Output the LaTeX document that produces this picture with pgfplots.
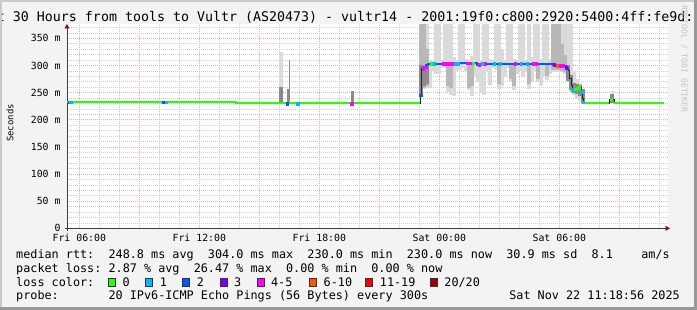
\documentclass[border=0pt]{standalone}
\usepackage{pgfplots}
\pgfplotsset{compat=1.18}
\usepackage{pgfplotstable}
\usepackage{fontspec}
\setmonofont{DejaVu Sans Mono}
\usetikzlibrary{arrows.meta}

\definecolor{bgcol}{HTML}{F3F3F3}
\definecolor{shadeA}{HTML}{CBCBCB}
\definecolor{shadeB}{HTML}{999999}
\definecolor{gridred}{HTML}{F2A8A8}
\definecolor{gridgrey}{HTML}{CDCDCD}
\definecolor{axiscol}{HTML}{404040}
\definecolor{arrowcol}{HTML}{8B1010}
\definecolor{wmcol}{HTML}{C4C4C4}
\definecolor{smokeL}{HTML}{DADADA}
\definecolor{smokeM}{HTML}{B8B8B8}
\definecolor{smokeD}{HTML}{8A8A8A}
\definecolor{c0col}{HTML}{26FF00}
\definecolor{c1col}{HTML}{00B8FF}
\definecolor{c2col}{HTML}{0059FF}
\definecolor{c3col}{HTML}{7E00FF}
\definecolor{c4col}{HTML}{FF00FF}
\definecolor{c6col}{HTML}{FF5500}
\definecolor{c11col}{HTML}{FF0000}
\definecolor{c20col}{HTML}{A10000}

\newcommand\tickfont{\ttfamily\fontsize{9.85}{11}\selectfont}
\newcommand\legfont{\ttfamily\fontsize{11.8}{13}\selectfont}
\newcommand\titlefont{\ttfamily\fontsize{13.3}{15}\selectfont}
\newcommand\wmfont{\ttfamily\fontsize{8.1}{9}\selectfont}
\newcommand\labfont{\ttfamily\fontsize{8.9}{10}\selectfont}

% hours since Fri 00:00, milliseconds
\pgfplotstableread{
x y
5.385 232
13.835 230
23.035 245
23.11 294
23.235 297
23.335 300
23.435 302
23.535 303
24.2 303.5
25.0 304
25.9 301.5
26.05 303.5
27.5 303
28.5 303.5
29.3 302.5
29.685 301
29.835 300
30.185 299
30.335 296
30.435 291
30.485 276
30.585 264
30.66 255
30.785 256
30.885 258
30.985 259
31.085 252
31.16 240
31.21 230
32.5 238
32.735 230
35.235 230
}\median

\pgfplotstableread{
x y
5.385 232
13.835 230
23.035 230
nan nan
31.21 230
32.5 230
nan nan
32.735 230
35.235 230
}\greenline

\pgfplotstableread{
x y
23.11 294
23.235 297
23.335 300
23.435 302
23.535 303
24.2 303.5
25.0 304
25.9 301.5
26.05 303.5
27.5 303
28.5 303.5
29.3 302.5
29.685 301
29.835 300
30.185 299
30.335 296
30.435 291
}\highline

\pgfplotstableread{
x y c
5.5 232 c2
5.56 232 c1
10.22 232 c2
10.35 232 c1
16.4 230 c2
16.93 230 c1
19.63 230 c4
23.06 245 c2
23.185 294 c4
23.31 297 c4
23.585 303 c0
23.735 303 c1
24.185 303 c4
24.335 303.5 c4
24.485 303.5 c4
24.635 303.5 c4
24.785 303.5 c1
24.935 303.5 c1
25.385 304 c4
25.535 304 c4
25.685 304 c0
25.985 301.5 c4
26.135 303.5 c1
26.285 303.5 c4
26.735 303.5 c1
27.035 303.5 c1
27.785 303 c4
28.085 303 c1
28.385 303 c1
28.685 303.5 c4
28.835 303.5 c4
29.735 301 c3
29.885 300 c6
30.035 300 c4
30.185 299 c4
30.335 296 c3
30.66 255 c1
30.785 256 c0
30.885 258 c0
30.985 259 c0
31.085 252 c1
31.19 232 c1
32.6 238 c0
}\lossmarks

\pgfplotstableread{
x lo hi
16.085 232 325
23.085 250 380
23.235 256 380
23.385 258 380
23.535 258 310
23.685 290 308
23.835 284 380
23.985 285 380
24.135 295 310
24.285 296 380
24.435 251 380
24.585 245 380
24.735 243 315
24.885 290 310
25.035 292 380
25.185 295 380
25.335 290 312
25.485 254 310
25.635 243 318
25.785 280 380
25.935 270 380
26.085 250 310
26.235 245 380
26.385 290 380
26.535 264 312
26.685 295 310
26.835 292 380
26.985 257 380
27.135 262 330
27.285 278 310
27.435 296 380
27.585 269 380
27.735 254 312
27.885 285 310
28.035 290 380
28.185 278 380
28.335 290 310
28.485 257 380
28.635 270 315
28.785 290 380
28.935 270 380
29.085 262 312
29.235 280 380
29.385 273 380
29.535 285 312
29.685 287 380
29.835 287 380
29.985 288 380
30.135 287 380
30.285 284 380
30.435 270 380
30.585 250 380
30.735 245 290
30.885 238 275
31.035 235 268
31.185 230 255
32.66 230 252
}\smokelight

\pgfplotstableread{
x lo hi
23.085 250 380
23.235 258 380
23.385 262 330
24.435 262 303
24.585 258 303
25.485 258 303
25.635 262 303
26.985 265 303
27.585 275 303
27.735 262 303
28.485 265 303
28.935 275 303
29.385 280 303
29.685 292 380
29.835 292 380
29.985 292 380
30.135 290 340
30.285 288 320
}\smokemid

\pgfplotstableread{
x lo hi
16.085 232 261
16.465 230 256
19.66 230 253
23.085 245 300
23.235 262 296
23.385 265 300
30.435 272 300
30.585 255 282
30.735 250 268
30.885 248 266
31.035 244 264
31.185 231 256
32.635 230 247
}\smokedark

\pgfplotstableread{
x lo hi
16.51 230 310
}\smokethin

\begin{document}
\begin{tikzpicture}
\useasboundingbox (0pt,0pt) rectangle (697pt,310pt);
\fill[bgcol] (0pt,0pt) rectangle (697pt,310pt);
\begin{scope}
\clip (0pt,0pt) rectangle (697pt,310pt);
\node[anchor=base west, inner sep=0pt, font=\titlefont] at (-27.3pt,288pt) {Last 30 Hours from tools to Vultr (AS20473) - vultr14 - 2001:19f0:c800:2920:5400:4ff:fe9d:c};
\end{scope}
\node[rotate=-90, anchor=base west, inner sep=0pt, font=\wmfont, text=wmcol] at (681.5pt,305pt) {RRDTOOL / TOBI OETIKER};
\node[rotate=90, anchor=base, inner sep=0pt, font=\labfont] at (13.3pt,187pt) {Seconds};

\begin{axis}[
  at={(67pt,81.7pt)}, anchor=south west,
  scale only axis, width=601pt, height=203.8pt,
  xmin=5.385, xmax=35.435, ymin=0, ymax=375.4,
  axis x line=bottom, axis y line=left,
  axis background/.style={fill=white},
  x axis line style={draw=axiscol, line width=0.9pt, shorten <=-2pt, shorten >=-2pt, -{Triangle[length=4.5pt,width=5pt,color=arrowcol]}},
  y axis line style={draw=axiscol, line width=0.9pt, shorten <=-3pt, shorten >=-0.5pt, -{Triangle[length=4.5pt,width=5pt,color=arrowcol]}},
  xtick={6,9,...,33},
  xticklabels={Fri 06:00,,Fri 12:00,,Fri 18:00,,Sat 00:00,,Sat 06:00,},
  minor xtick={7,8,10,11,13,14,16,17,19,20,22,23,25,26,28,29,31,32,34,35},
  ytick={0,50,...,350},
  yticklabels={0,50 m,100 m,150 m,200 m,250 m,300 m,350 m},
  minor ytick={10,20,30,40,60,70,80,90,110,120,130,140,160,170,180,190,210,220,230,240,260,270,280,290,310,320,330,340,360,370},
  grid=both,
  major grid style={draw=gridred, dash pattern=on 1pt off 1pt, line width=0.7pt},
  minor grid style={draw=gridgrey, dash pattern=on 1pt off 1pt, line width=0.7pt},
  major tick length=0pt, minor tick length=0pt,
  xticklabel style={font=\tickfont, anchor=north, inner sep=0pt, yshift=-6pt},
  yticklabel style={font=\tickfont, anchor=east, inner sep=0pt, xshift=-6.3pt},
]
% smoke
\addplot[forget plot, draw=none, mark=none, error bars/.cd, y dir=plus, y explicit, error mark=none,
  error bar style={draw=smokeL, line width=3.4pt, solid}]
  table[x=x, y=lo, y error expr=\thisrow{hi}-\thisrow{lo}] {\smokelight};
\addplot[forget plot, draw=none, mark=none, error bars/.cd, y dir=plus, y explicit, error mark=none,
  error bar style={draw=smokeM, line width=3.4pt, solid}]
  table[x=x, y=lo, y error expr=\thisrow{hi}-\thisrow{lo}] {\smokemid};
\addplot[forget plot, draw=none, mark=none, error bars/.cd, y dir=plus, y explicit, error mark=none,
  error bar style={draw=smokeD, line width=3.4pt, solid}]
  table[x=x, y=lo, y error expr=\thisrow{hi}-\thisrow{lo}] {\smokedark};
\addplot[forget plot, draw=none, mark=none, error bars/.cd, y dir=plus, y explicit, error mark=none,
  error bar style={draw=smokeD, line width=1pt, solid}]
  table[x=x, y=lo, y error expr=\thisrow{hi}-\thisrow{lo}] {\smokethin};
% median
\addplot[const plot, black!85, line width=0.9pt, mark=none] table[x=x,y=y] {\median};
\addplot[const plot, c0col, line width=2pt, mark=none, unbounded coords=jump] table[x=x,y=y] {\greenline};
\addplot[const plot, c2col, line width=2pt, mark=none] table[x=x,y=y] {\highline};
\addplot[scatter, only marks, scatter src=explicit symbolic,
  scatter/classes={
    c0={mark=square*, c0col},
    c1={mark=square*, c1col},
    c2={mark=square*, c2col},
    c3={mark=square*, c3col},
    c4={mark=square*, c4col},
    c6={mark=square*, c6col}},
  mark size=1.3pt]
  table[x=x, y=y, meta=c] {\lossmarks};
\end{axis}

% legend
\node[anchor=base west, inner sep=0pt, font=\legfont] at (16pt,51.6pt) {median rtt:~~248.8 ms avg~~304.0 ms max~~230.0 ms min~~230.0 ms now~~30.9 ms sd~~8.1~~~~am/s};
\node[anchor=base west, inner sep=0pt, font=\legfont] at (16pt,37.7pt) {packet loss: 2.87 \% avg~~26.47 \% max~~0.00 \% min~~0.00 \% now};
\node[anchor=base west, inner sep=0pt, font=\legfont] at (16pt,23.9pt) {loss color:};
\foreach \bx/\col/\lab in {108.4/c0col/0, 145.6/c1col/1, 182.7/c2col/2, 219.8/c3col/3, 256.9/c4col/4-5, 309.5/c6col/6-10, 365.7/c11col/11-19, 430.2/c20col/{20/20}}{
  \filldraw[fill=\col, draw=black!80, line width=0.6pt] (\bx pt,23.3pt) rectangle ++(7pt,8.4pt);
  \node[anchor=base west, inner sep=0pt, font=\legfont] at (\bx pt+14pt,23.9pt) {\lab};
}
\node[anchor=base west, inner sep=0pt, font=\legfont] at (16pt,10pt) {probe:~~~~~~~20 IPv6-ICMP Echo Pings (56 Bytes) every 300s};
\node[anchor=base east, inner sep=0pt, font=\legfont] at (680pt,10pt) {Sat Nov 22 11:18:56 2025};

% frame
\fill[shadeA] (0pt,0pt) rectangle (2pt,310pt);
\fill[shadeA] (0pt,308pt) rectangle (697pt,310pt);
\fill[shadeB] (0pt,0pt) rectangle (697pt,3pt);
\fill[shadeB] (694pt,0pt) rectangle (697pt,310pt);
\end{tikzpicture}
\end{document}
